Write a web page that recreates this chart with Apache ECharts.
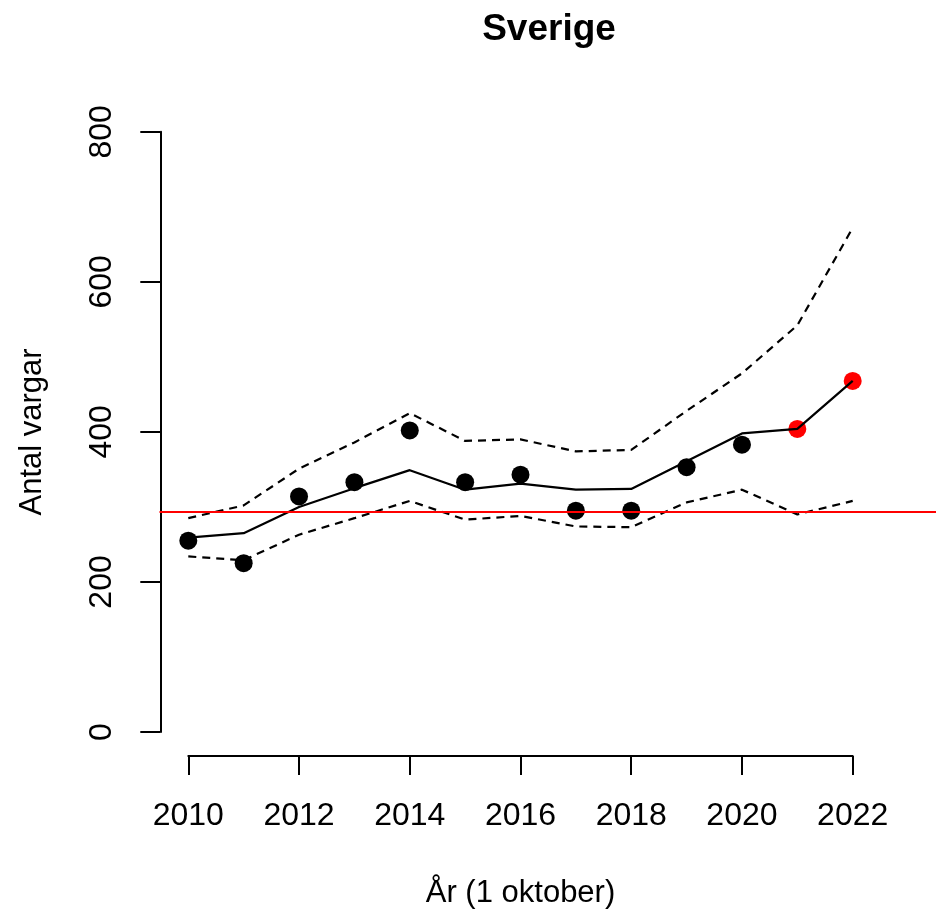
<!DOCTYPE html>
<html>
<head>
<meta charset="utf-8">
<title>Sverige</title>
<script src="https://cdn.jsdelivr.net/npm/echarts@6/dist/echarts.min.js"></script>
<style>
    html, body { margin: 0; padding: 0; background: #fff; }
    #chart { width: 936px; height: 914px; }
</style>
</head>
<body>
<div id="chart"></div>
<script>
// år (1 oktober)
var years = [2010, 2011, 2012, 2013, 2014, 2015, 2016, 2017, 2018, 2019, 2020, 2021, 2022];
// inventerade antal (svarta punkter), 2010-2020
var observed = [255, 225, 314, 333, 402, 333, 343, 295, 295, 353, 383];
// prognos (röda punkter), 2021-2022
var forecast = [404, 468];
// skattning med osäkerhetsintervall
var estimate = [259, 265, 300, 325, 349, 323, 331, 323, 324, 361, 398, 404, 468];
var upper = [285, 302, 351, 386, 425, 388, 390, 374, 376, 428, 478, 542, 672];
var lower = [234, 229, 263, 285, 308, 283, 288, 274, 273, 306, 323, 290, 308];
// referensnivå
var refLevel = 300;
var yTicks = [0, 200, 400, 600, 800];

function pairs(xs, ys) {
    var out = [];
    for (var i = 0; i < ys.length; i++) {
        out.push([xs[i], ys[i]]);
    }
    return out;
}

var font = "'Liberation Sans', Arial, sans-serif";
var myChart = echarts.init(document.getElementById('chart'));

var option = {
    backgroundColor: '#ffffff',
    animation: false,
    title: {
        text: 'Sverige',
        left: 544,
        top: 6,
        textAlign: 'center',
        textStyle: { fontFamily: font, fontSize: 37, fontWeight: 'bold', color: '#000' }
    },
    grid: [
        // axlar + data
        { left: 188.3, right: 83.3, top: 131.8, bottom: 174, containLabel: false },
        // hela plotytan (för referenslinjen)
        { left: 159.5, right: -1, top: 131.8, bottom: 174, containLabel: false }
    ],
    xAxis: [
        {
            type: 'value', gridIndex: 0, min: 2010, max: 2022, interval: 2,
            position: 'bottom', offset: 24,
            name: 'År (1 oktober)', nameLocation: 'middle', nameGap: 122,
            nameTextStyle: { fontFamily: font, fontSize: 31, color: '#000' },
            splitLine: { show: false },
            axisLine: { show: true, onZero: false, lineStyle: { color: '#000', width: 2 } },
            axisTick: { show: true, length: 19, lineStyle: { color: '#000', width: 2 } },
            axisLabel: {
                margin: 44, fontFamily: font, fontSize: 32, color: '#000',
                formatter: function (v) { return String(v); }
            }
        },
        { type: 'value', gridIndex: 1, min: 2009.48, max: 2023.52, show: false }
    ],
    yAxis: [
        {
            type: 'value', gridIndex: 0, min: yTicks[0], max: yTicks[yTicks.length - 1], interval: 200,
            position: 'left', offset: 28,
            name: 'Antal vargar', nameLocation: 'middle', nameGap: 112, nameRotate: 90,
            nameTextStyle: { fontFamily: font, fontSize: 31, color: '#000' },
            splitLine: { show: false },
            axisLine: { show: true, onZero: false, lineStyle: { color: '#000', width: 2 } },
            axisTick: { show: true, length: 20, lineStyle: { color: '#000', width: 2 } },
            axisLabel: { rotate: 90, margin: 42, fontFamily: font, fontSize: 32, color: '#000' }
        },
        { type: 'value', gridIndex: 1, min: 0, max: 800, show: false }
    ],
    series: [
        {
            name: 'ref', type: 'line', xAxisIndex: 1, yAxisIndex: 1,
            data: [], symbol: 'none',
            markLine: {
                silent: true, symbol: ['none', 'none'], label: { show: false },
                lineStyle: { color: '#ff0000', width: 2, type: 'solid' },
                data: [{ yAxis: refLevel }]
            }
        },
        {
            name: 'inventerat', type: 'scatter', z: 2,
            data: pairs(years, observed), symbol: 'circle', symbolSize: 18,
            itemStyle: { color: '#000', opacity: 1 }
        },
        {
            name: 'prognos', type: 'scatter', z: 2,
            data: pairs(years.slice(observed.length), forecast), symbol: 'circle', symbolSize: 18,
            itemStyle: { color: '#ff0000', opacity: 1 }
        },
        {
            name: 'skattning', type: 'line', z: 3,
            data: pairs(years, estimate), symbol: 'none',
            lineStyle: { color: '#000', width: 2.2 }
        },
        {
            name: 'övre', type: 'line', z: 3,
            data: pairs(years, upper), symbol: 'none',
            lineStyle: { color: '#000', width: 2.2, type: [8, 6] }
        },
        {
            name: 'undre', type: 'line', z: 3,
            data: pairs(years, lower), symbol: 'none',
            lineStyle: { color: '#000', width: 2.2, type: [8, 6] }
        }
    ]
};

myChart.setOption(option);
</script>
</body>
</html>
